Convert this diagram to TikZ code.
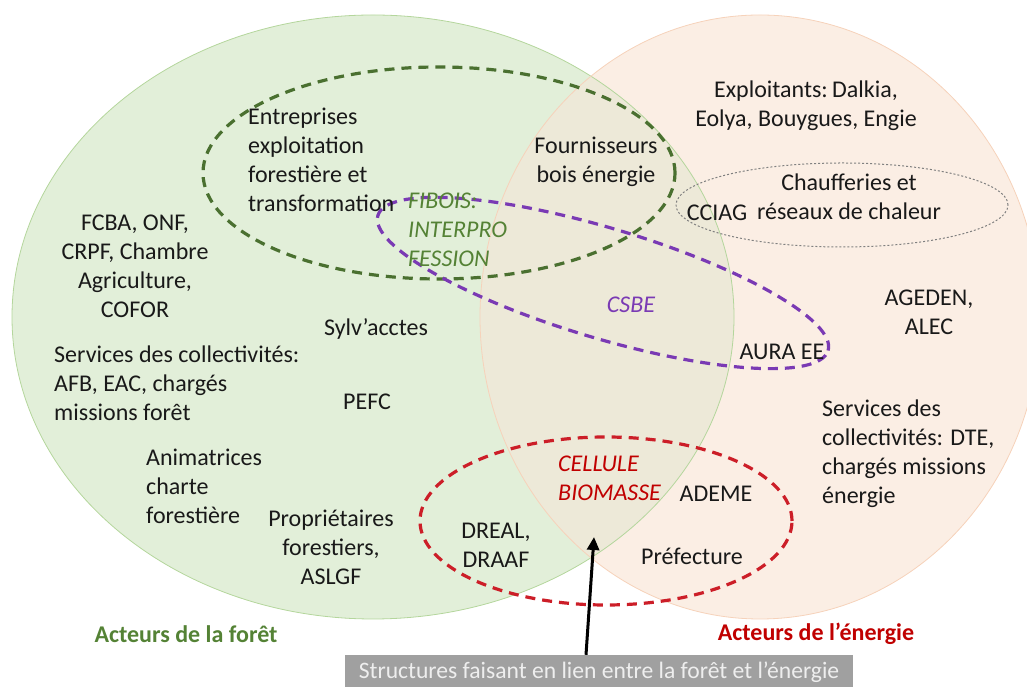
\documentclass[tikz,border=0pt]{standalone}
\usepackage{fontspec}
\setmainfont{Carlito}
\usetikzlibrary{arrows.meta}
\definecolor{forestfill}{RGB}{226,239,217}
\definecolor{forestline}{RGB}{180,214,156}
\definecolor{energyfill}{RGB}{251,238,228}
\definecolor{energyline}{RGB}{246,210,186}
\definecolor{overlapfill}{RGB}{237,233,216}
\definecolor{txt}{RGB}{25,25,25}
\definecolor{dkgreen}{RGB}{74,112,48}
\definecolor{lblgreen}{RGB}{84,130,53}
\definecolor{dkred}{RGB}{192,0,0}
\definecolor{dashred}{RGB}{204,30,40}
\definecolor{purp}{RGB}{122,58,180}
\definecolor{boxgray}{RGB}{160,160,160}
\definecolor{boxtext}{RGB}{238,238,238}
\begin{document}
\begin{tikzpicture}[x=1pt,y=1pt,
  lbl/.style={font=\fontsize{24}{29}\selectfont, text=txt, inner sep=0pt, align=center},
  lbll/.style={lbl, align=left},
  grpdash/.style={line width=3.2pt, dash pattern=on 10pt off 7pt},
]
\useasboundingbox (0,0) rectangle (1027,687);
\clip (0,0) rectangle (1027,687);
% big circles
\fill[forestfill] (373,370) ellipse [x radius=361, y radius=302];
\fill[energyfill] (760,370) ellipse [x radius=280, y radius=302];
\begin{scope}
  \clip (373,370) ellipse [x radius=361, y radius=302];
  \fill[overlapfill] (760,370) ellipse [x radius=280, y radius=302];
\end{scope}
\draw[forestline, line width=0.8pt] (373,370) ellipse [x radius=361, y radius=302];
\draw[energyline, line width=0.8pt] (760,370) ellipse [x radius=280, y radius=302];
% group ellipses
\draw[gray, line width=1pt, dash pattern=on 2pt off 2pt] (842,482) ellipse [x radius=166, y radius=42];
\draw[dkgreen, grpdash] (439,514) ellipse [x radius=236, y radius=106];
\draw[purp, grpdash, rotate around={-16.7:(603,404)}] (603,404) ellipse [x radius=235, y radius=55];
\draw[dashred, grpdash] (606,166) ellipse [x radius=186, y radius=84];
% labels
\node[lbll, anchor=west] (entr) at (248,527) {Entreprises\\exploitation\\forestière et\\transformation};
\node[lbl] (fourn) at (596,525) {Fournisseurs\\bois énergie};
\node[lbl] (exploit) at (806,581) {Exploitants:\hspace{-0.12em} Dalkia,\\Eolya, Bouygues, Engie};
\node[lbl] (chauf) at (849,490) {Chaufferies et\\réseaux de chaleur};
\node[lbl] (cciag) at (717,474) {CCIAG};
\node[lbll, anchor=west, text=lblgreen, font=\fontsize{24}{29}\selectfont\itshape] (fibois) at (408,457) {FIBOIS:\\INTERPRO\\FESSION};
\node[lbl] (fcba) at (135,421) {FCBA, ONF,\\CRPF, Chambre\\Agriculture,\\COFOR};
\node[lbl] (ageden) at (929,375) {AGEDEN,\\ALEC};
\node[lbl, text=purp, font=\fontsize{24}{29}\selectfont\itshape] (csbe) at (631,382) {CSBE};
\node[lbl] (sylv) at (376,358) {Sylv’acctes};
\node[lbll, anchor=west] (servf) at (54,304) {Services des collectivités:\\AFB, EAC, chargés\\missions forêt};
\node[lbl] (aura) at (782,335) {AURA EE};
\node[lbl] (pefc) at (367,285) {PEFC};
\node[lbll, anchor=west] (serve) at (822,233) {Services des\\collectivités: DTE,\\chargés missions\\énergie};
\node[lbll, anchor=west] (anim) at (146,201) {Animatrices\\charte\\forestière};
\node[lbll, anchor=west, text=dkred, font=\fontsize{24}{29}\selectfont\itshape] (cellule) at (558,209) {CELLULE\\BIOMASSE};
\node[lbl] (ademe) at (716,193) {ADEME};
\node[lbl] (prop) at (331,140) {Propriétaires\\forestiers,\\ASLGF};
\node[lbl] (dreal) at (496,142) {DREAL,\\DRAAF};
\node[lbl] (pref) at (692,131) {Préfecture};
\node[lbl, text=lblgreen, font=\fontsize{24}{29}\selectfont\bfseries] (aforet) at (186,53) {Acteurs de la forêt};
\node[lbl, text=dkred, font=\fontsize{24}{29}\selectfont\bfseries] (aener) at (816,53) {Acteurs de l’énergie};
% bottom box and arrow
\node[fill=boxgray, text=boxtext, minimum width=508pt, minimum height=34pt, inner sep=0pt, font=\fontsize{23.6}{28}\selectfont] (box) at (599,15) {Structures faisant en lien entre la forêt et l’énergie};
\coordinate (tip) at (594,150);
\draw[black, line width=3pt, -{Triangle[length=13pt,width=12pt]}] ([xshift=-13pt]box.north) -- (tip);
\end{tikzpicture}
\end{document}
